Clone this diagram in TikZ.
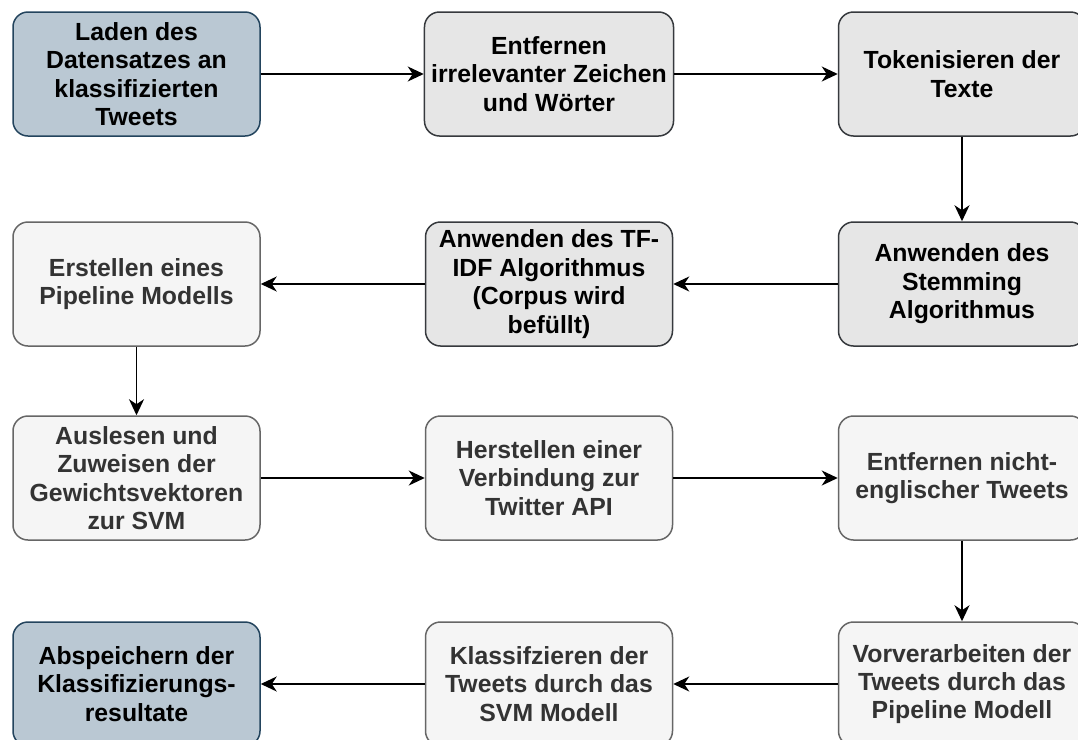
\documentclass[tikz,border=0pt]{standalone}
\usepackage{fontspec}
\setmainfont{Liberation Sans}
\usetikzlibrary{arrows.meta}
\definecolor{blaufill}{HTML}{BAC8D3}
\definecolor{blaustroke}{HTML}{23445D}
\definecolor{grau}{HTML}{E6E6E6}
\definecolor{graustroke}{HTML}{36393D}
\definecolor{hell}{HTML}{F5F5F5}
\definecolor{hellstroke}{HTML}{666666}
\definecolor{helltext}{HTML}{333333}

\begin{document}
\begin{tikzpicture}[x=0.5pt,y=-0.5pt,>={Stealth[length=8pt,width=7.5pt,inset=2.5pt]},
    box/.style={rectangle,rounded corners=7.5pt,draw,line width=0.75pt,minimum height=62pt,minimum width=123.5pt,align=center,font=\fontsize{12.4}{14.2}\selectfont\bfseries},
    blau/.style={box,fill=blaufill,draw=blaustroke},
    dunkel/.style={box,fill=grau,draw=graustroke},
    leicht/.style={box,fill=hell,draw=hellstroke,text=helltext},
    pfeil/.style={->,line width=0.9pt}]
\useasboundingbox (0,0) rectangle (1078,740);
\node[blau] (laden) at (136.5,74) {Laden des\\Datensatzes an\\klassifizierten\\Tweets};
\node[dunkel] (entf) at (549,74) {Entfernen\\irrelevanter Zeichen\\und Wörter};
\node[dunkel] (token) at (962,74) {Tokenisieren der\\Texte};
\node[dunkel] (stem) at (962,284) {Anwenden des\\Stemming\\Algorithmus};
\node[dunkel] (tfidf) at (549,284) {Anwenden des TF-\\IDF Algorithmus\\(Corpus wird\\befüllt)};
\node[leicht] (pipe) at (136.5,284) {Erstellen eines\\Pipeline Modells};
\node[leicht] (gewicht) at (136.5,478) {Auslesen und\\Zuweisen der\\Gewichtsvektoren\\zur SVM};
\node[leicht] (api) at (549,478) {Herstellen einer\\Verbindung zur\\Twitter API};
\node[leicht] (engl) at (962,478) {Entfernen nicht-\\englischer Tweets};
\node[leicht] (vorv) at (962,684) {Vorverarbeiten der\\Tweets durch das\\Pipeline Modell};
\node[leicht] (klass) at (549,684) {Klassifzieren der\\Tweets durch das\\SVM Modell};
\node[blau] (speich) at (136.5,684) {Abspeichern der\\Klassifizierungs-\\resultate};
\draw[pfeil] (laden)--(entf); \draw[pfeil] (entf)--(token); \draw[pfeil] (token)--(stem);
\draw[pfeil] (stem)--(tfidf); \draw[pfeil] (tfidf)--(pipe); \draw[pfeil] (pipe)--(gewicht);
\draw[pfeil] (gewicht)--(api); \draw[pfeil] (api)--(engl); \draw[pfeil] (engl)--(vorv);
\draw[pfeil] (vorv)--(klass); \draw[pfeil] (klass)--(speich);
\end{tikzpicture}
\end{document}
